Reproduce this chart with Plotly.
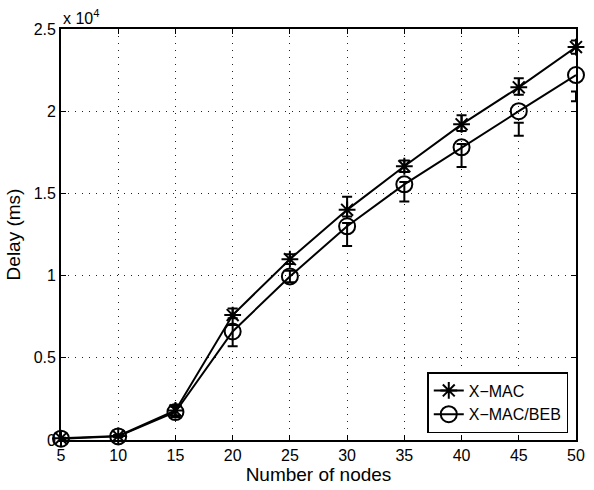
import plotly.graph_objects as go

nodes = [5, 10, 15, 20, 25, 30, 35, 40, 45, 50]
xmac = [100, 250, 1800, 7600, 11000, 14000, 16650, 19200, 21450, 23900]
beb = [80, 220, 1700, 6600, 9950, 13000, 15550, 17800, 20000, 22200]

# error bar extents (low, high) in ms
xmac_lo = [60, 200, 1500, 7400, 10700, 13600, 16300, 18800, 21000, 23500]
xmac_hi = [140, 300, 2100, 8000, 11300, 14800, 17000, 19760, 22000, 24300]
beb_lo = [40, 170, 1400, 5700, 9600, 11800, 14500, 16600, 18500, 20600]
beb_hi = [120, 270, 2000, 7000, 10300, 13200, 15700, 18000, 19300, 21200]

yticks = [0, 5000, 10000, 15000, 20000, 25000]
yticklabels = ["0", "0.5", "1", "1.5", "2", "2.5"]
xticks = [5, 10, 15, 20, 25, 30, 35, 40, 45, 50]

FONT = "Liberation Sans"

fig = go.Figure()

for lo, hi in [(xmac_lo, xmac_hi), (beb_lo, beb_hi)]:
    mid = [(a + b) / 2 for a, b in zip(lo, hi)]
    half = [(b - a) / 2 for a, b in zip(lo, hi)]
    fig.add_trace(go.Scatter(
        x=nodes, y=mid, mode="markers",
        marker=dict(size=1, color="rgba(0,0,0,0)"),
        error_y=dict(type="data", array=half, visible=True, color="black",
                     thickness=2, width=5),
        showlegend=False, hoverinfo="skip", cliponaxis=False))

fig.add_trace(go.Scatter(
    x=nodes, y=xmac, mode="lines+markers", name="X\u2212MAC",
    line=dict(color="black", width=2),
    marker=dict(symbol="asterisk-open", size=14, color="black",
                line=dict(color="black", width=2)),
    cliponaxis=False))
fig.add_trace(go.Scatter(
    x=nodes, y=beb, mode="lines+markers", name="X\u2212MAC/BEB",
    line=dict(color="black", width=2),
    marker=dict(symbol="circle-open", size=16, color="black",
                line=dict(color="black", width=2)),
    cliponaxis=False))

axis_common = dict(
    showline=True, linecolor="black", linewidth=1.8, mirror="allticks",
    ticks="inside", ticklen=5, tickcolor="black", tickwidth=1,
    showgrid=True, gridcolor="#222", griddash="1px,6px", gridwidth=1,
    zeroline=False,
    tickfont=dict(family=FONT, size=16, color="black"),
)

fig.update_xaxes(range=[5, 50], tickvals=xticks,
                 title=dict(text="Number of nodes", standoff=4,
                            font=dict(family=FONT, size=19, color="black")),
                 **axis_common)
fig.update_yaxes(range=[0, 25000], tickvals=yticks, ticktext=yticklabels,
                 title=dict(text="Delay (ms)", standoff=8,
                            font=dict(family=FONT, size=19, color="black")),
                 **axis_common)

fig.add_annotation(x=0, xref="paper", y=1, yref="paper", xanchor="left", yanchor="bottom",
                   text="x 10<sup>4</sup>", showarrow=False, yshift=0,
                   font=dict(family=FONT, size=16, color="black"))

fig.update_layout(
    width=594, height=490,
    margin=dict(l=61, r=9, t=29, b=48),
    plot_bgcolor="white", paper_bgcolor="white",
    legend=dict(x=0.985, y=0.017, xanchor="right", yanchor="bottom",
                bordercolor="black", borderwidth=1.5, bgcolor="white",
                font=dict(family=FONT, size=16, color="black"),
                tracegroupgap=0),
    font=dict(family=FONT, color="black"),
)

fig.write_html("out.html")
